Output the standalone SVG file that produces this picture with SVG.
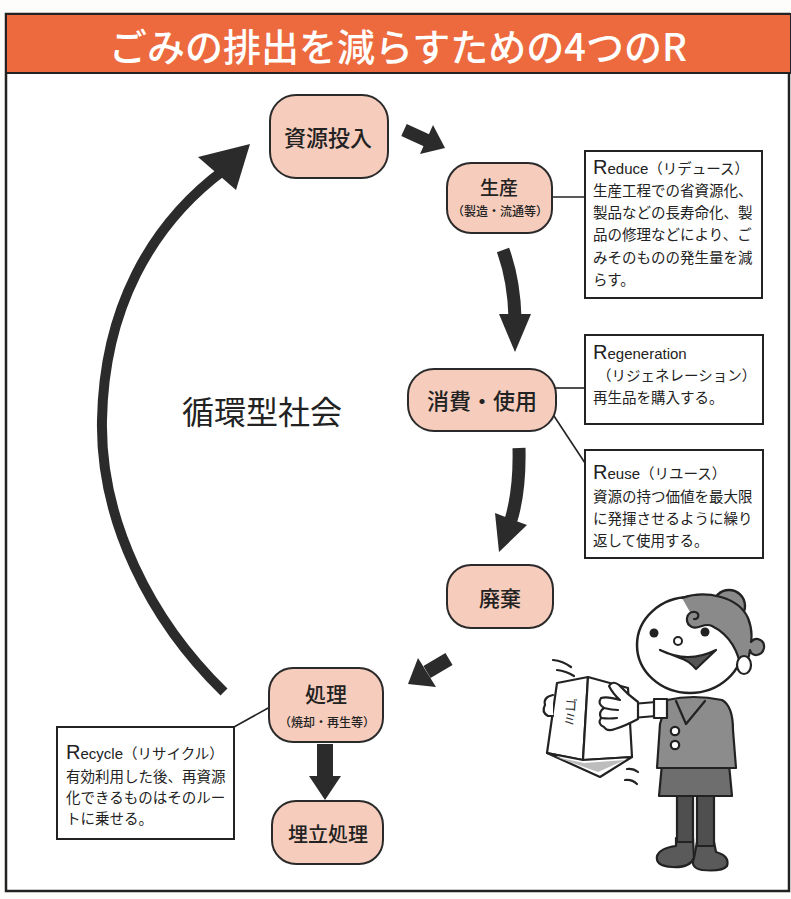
<svg xmlns="http://www.w3.org/2000/svg" width="791" height="899" viewBox="0 0 791 899">
  <defs>
    <style>
      .node { fill: #F6CCBC; stroke: #2a2a2a; stroke-width: 2; }
      .ntext { font-family: "Noto Sans CJK JP", "Noto Sans", sans-serif; font-weight: 500; fill: #222; text-anchor: middle; dominant-baseline: central; }
      .note { fill: #fff; stroke: #222; stroke-width: 2; }
      .btext { font-family: "Noto Sans CJK JP", "Noto Sans", sans-serif; font-size: 14.5px; fill: #222; }
      .cap { font-family: "Liberation Sans", "Noto Sans CJK JP", sans-serif; font-size: 20px; }
      .lat { font-family: "Liberation Sans", "Noto Sans CJK JP", sans-serif; font-size: 15px; }
      .link { stroke: #222; stroke-width: 1.6; fill: none; }
      .arrow { fill: #2b2b2b; }
      .shaft { stroke: #2b2b2b; fill: none; }
      .ink { stroke: #222; stroke-width: 2.2; stroke-linejoin: round; stroke-linecap: round; }
    </style>
  </defs>

  <!-- page and frame -->
  <rect x="0" y="0" width="791" height="899" fill="#fdfdfb"/>
  <rect x="6" y="14" width="783" height="877" fill="#fff" stroke="#222" stroke-width="2.5"/>

  <!-- title band -->
  <g id="title">
    <rect x="6" y="14" width="785" height="59" fill="#EC6A3E" stroke="#222" stroke-width="2"/>
    <text x="398" y="44" fill="#fff" font-family="'Noto Sans CJK JP', 'Noto Sans', sans-serif" font-size="38" font-weight="500" text-anchor="middle" dominant-baseline="central">ごみの排出を減らすための4つのR</text>
  </g>

  <!-- connectors -->
  <g id="connectors">
    <!-- leader lines to the notes -->
    <line class="link" x1="552" y1="197" x2="585" y2="197"/>
    <line class="link" x1="555" y1="388" x2="585" y2="388"/>
    <line class="link" x1="552" y1="413" x2="585" y2="463"/>
    <line class="link" x1="270" y1="707" x2="234" y2="727"/>

    <!-- 資源投入 → 生産 -->
    <line class="shaft" x1="404" y1="130" x2="428" y2="141" stroke-width="13"/>
    <polygon class="arrow" points="445,148 420,154 433,125"/>

    <!-- 生産 → 消費・使用 -->
    <path class="shaft" d="M503,250 Q514,280 515,318" stroke-width="13"/>
    <polygon class="arrow" points="499,314 531,314 515,352"/>

    <!-- 消費・使用 → 廃棄 -->
    <path class="shaft" d="M519,448 Q520,490 511,520" stroke-width="13"/>
    <polygon class="arrow" points="495,513 527,525 499,552"/>

    <!-- 廃棄 → 処理 -->
    <line class="shaft" x1="449" y1="659" x2="427" y2="672" stroke-width="14"/>
    <polygon class="arrow" points="408,684 418,658 436,687"/>

    <!-- 処理 → 埋立処理 -->
    <rect class="arrow" x="317" y="744" width="16" height="34"/>
    <polygon class="arrow" points="309,776 341,776 325,800"/>

    <!-- 処理 → 資源投入 (large return arc) -->
    <path class="shaft" d="M224,692 C150,620 100,520 102,420 C104,310 150,225 224,170" stroke-width="10"/>
    <polygon class="arrow" points="250,144 198,157 236,190"/>
  </g>

  <!-- process nodes -->
  <g id="n-shigen">
    <rect class="node" x="270" y="95" width="118" height="83" rx="26"/>
    <text class="ntext" x="328" y="136" font-size="22">資源投入</text>
  </g>
  <g id="n-seisan">
    <rect class="node" x="447" y="163" width="105" height="70" rx="24"/>
    <text class="ntext" x="499" y="186" font-size="19">生産</text>
    <text class="ntext" x="500" y="210" font-size="12">（製造・流通等）</text>
  </g>
  <g id="n-shohi">
    <rect class="node" x="408" y="369" width="148" height="62" rx="26"/>
    <text class="ntext" x="482" y="399" font-size="22">消費・使用</text>
  </g>
  <g id="n-haiki">
    <rect class="node" x="447" y="565" width="106" height="63" rx="24"/>
    <text class="ntext" x="500" y="597" font-size="21">廃棄</text>
  </g>
  <g id="n-shori">
    <rect class="node" x="269" y="668" width="114" height="74" rx="24"/>
    <text class="ntext" x="326" y="693" font-size="21">処理</text>
    <text class="ntext" x="327" y="721" font-size="12">（焼却・再生等）</text>
  </g>
  <g id="n-umetate">
    <rect class="node" x="272" y="801" width="111" height="63" rx="24"/>
    <text class="ntext" x="328" y="833" font-size="20">埋立処理</text>
  </g>

  <!-- centre caption -->
  <g id="label-junkan">
    <text x="262" y="410" font-family="'Noto Sans CJK JP', 'Noto Sans', sans-serif" font-size="32" fill="#222" text-anchor="middle" dominant-baseline="central">循環型社会</text>
  </g>

  <!-- explanatory notes -->
  <g id="box-reduce">
    <rect class="note" x="585" y="151" width="177" height="147"/>
    <text class="btext" x="593" y="174"><tspan class="cap">R</tspan><tspan class="lat">educe</tspan>（リデュース）</text>
    <text class="btext" x="593" y="196">生産工程での省資源化、</text>
    <text class="btext" x="593" y="218">製品などの長寿命化、製</text>
    <text class="btext" x="593" y="240">品の修理などにより、ご</text>
    <text class="btext" x="593" y="263">みそのものの発生量を減</text>
    <text class="btext" x="593" y="285">らす。</text>
  </g>
  <g id="box-regen">
    <rect class="note" x="585" y="335" width="178" height="89"/>
    <text class="btext" x="593" y="359"><tspan class="cap">R</tspan><tspan class="lat">egeneration</tspan></text>
    <text class="btext" x="597" y="381">（リジェネレーション）</text>
    <text class="btext" x="593" y="403">再生品を購入する。</text>
  </g>
  <g id="box-reuse">
    <rect class="note" x="585" y="450" width="178" height="108"/>
    <text class="btext" x="593" y="479"><tspan class="cap">R</tspan><tspan class="lat">euse</tspan>（リユース）</text>
    <text class="btext" x="593" y="502">資源の持つ価値を最大限</text>
    <text class="btext" x="593" y="524">に発揮させるように繰り</text>
    <text class="btext" x="593" y="546">返して使用する。</text>
  </g>
  <g id="box-recycle">
    <rect class="note" x="57" y="727" width="177" height="112"/>
    <text class="btext" x="66" y="759"><tspan class="cap">R</tspan><tspan class="lat">ecycle</tspan>（リサイクル）</text>
    <text class="btext" x="66" y="782">有効利用した後、再資源</text>
    <text class="btext" x="66" y="803">化できるものはそのルー</text>
    <text class="btext" x="66" y="824">トに乗せる。</text>
  </g>

  <!-- woman handing over a bag of rubbish -->
  <g id="figure">
    <!-- motion marks -->
    <path class="ink" fill="none" d="M553,660 Q563,661 571,667 M557,670 Q566,671 574,676"/>
    <path class="ink" fill="none" d="M627,769 Q633,768 638,772 M625,780 Q632,779 637,784"/>

    <!-- shoes and legs -->
    <path class="ink" fill="#5a5a5a" d="M676,838 L693,838 L694,858 Q690,868 672,867 Q655,866 657,856 Q660,848 676,846 Z"/>
    <path class="ink" fill="#5a5a5a" d="M697,842 L714,842 L716,852 Q730,856 727,866 Q722,872 702,870 Q690,868 694,858 Z"/>
    <rect class="ink" x="677" y="790" width="16" height="52" fill="#4f4f4f"/>
    <rect class="ink" x="697" y="790" width="17" height="56" fill="#4f4f4f"/>

    <!-- skirt -->
    <path class="ink" fill="#6e6e6e" d="M662,764 L729,764 L732,796 L659,796 Z"/>
    <!-- jacket -->
    <path class="ink" fill="#8c8c8c" d="M667,700 Q693,694 722,700 Q733,706 733,730 L736,768 L657,768 L660,724 Z"/>
    <path class="ink" fill="none" d="M676,701 L686,724 L705,701"/>
    <circle class="ink" cx="675" cy="731" r="4.2" fill="#fff" stroke-width="2"/>
    <circle class="ink" cx="675" cy="745" r="4.2" fill="#fff" stroke-width="2"/>

    <!-- the bag -->
    <path class="ink" fill="#fff" d="M557,683 L588,677 L583,760 L547,753 Z"/>
    <path class="ink" fill="#fff" d="M588,677 L628,688 L632,757 L583,760 Z"/>
    <path class="ink" fill="#fff" d="M547,753 L583,760 L632,757 L600,777 Z"/>
    <path fill="#bdbdbd" d="M556,757 L598,772 L625,760 L584,763 Z"/>
    <!-- fingers of the other hand on the bag -->
    <path class="ink" fill="#fff" d="M553,695 Q543,697 545,705 Q541,712 548,716 L553,716"/>
    <text x="570" y="698" font-family="'Noto Sans CJK JP', sans-serif" font-size="14" fill="#333" writing-mode="tb" transform="rotate(4 570 716)">ゴミ</text>

    <!-- arm, cuff and hand resting on the bag -->
    <path class="ink" fill="#fff" d="M632,704 L656,702 L656,716 L632,718 Z"/>
    <rect class="ink" x="654" y="699" width="13" height="19" fill="#fff"/>
    <path class="ink" fill="#fff" d="M638,702 Q627,694 619,685 Q613,680 609,686 Q613,694 620,700 Q607,696 601,698 Q597,704 604,708 Q598,712 601,718 Q597,724 604,727 Q607,732 615,729 Q625,726 638,719 Z"/>
    <path class="ink" fill="none" d="M604,708 Q612,710 618,710 M601,718 Q609,719 617,718"/>

    <!-- head -->
    <ellipse cx="690" cy="645" rx="53" ry="48" fill="#fff" stroke="#222" stroke-width="2.5"/>
    <circle cx="729" cy="606" r="16" fill="#8a8a8a" stroke="#222" stroke-width="2.4"/>
    <path class="ink" fill="#8a8a8a" d="M682,598 C705,590 738,596 748,618 C752,628 752,636 751,642 C756,636 765,640 764,648 C762,657 751,657 750,650 C749,660 745,666 741,670 C739,652 730,635 712,626 C704,622 699,630 692,627 C684,623 686,611 695,612 C700,613 699,620 694,619"/>
    <ellipse cx="744" cy="665" rx="7" ry="9" fill="#fff" stroke="#222" stroke-width="2.2"/>
    <circle cx="654" cy="633" r="4.5" fill="#222"/>
    <circle cx="705" cy="632" r="4.5" fill="#222"/>
    <circle cx="678" cy="641" r="4" fill="#fff" stroke="#222" stroke-width="2"/>
    <path class="ink" fill="#555" d="M660,650 Q688,664 716,650 L696,669 Q688,660 680,658 Z"/>
  </g>
</svg>
